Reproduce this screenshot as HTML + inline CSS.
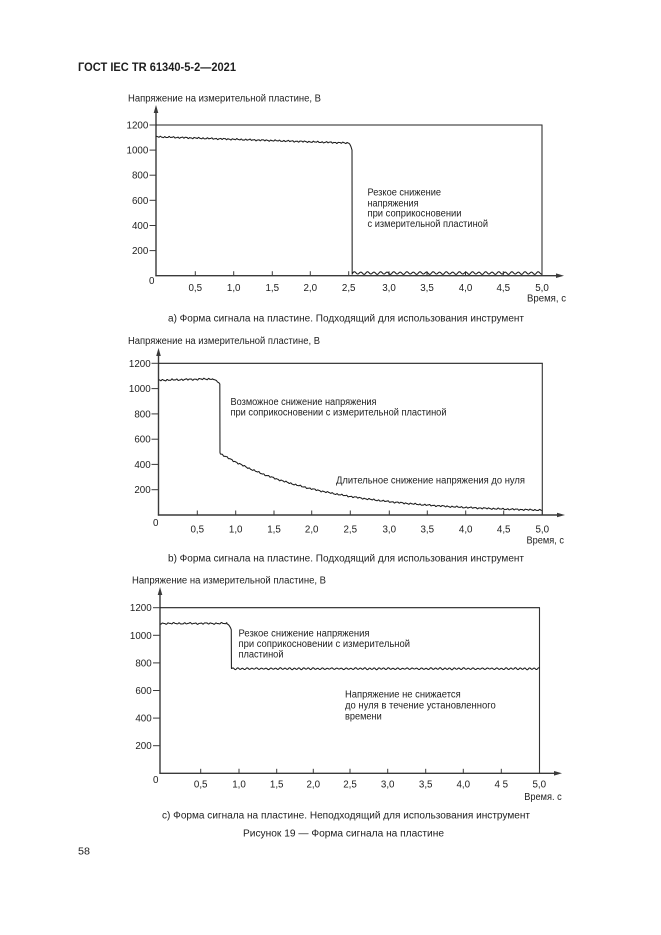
<!DOCTYPE html>
<html>
<head>
<meta charset="utf-8">
<style>
html,body{margin:0;padding:0;background:#fff;}
svg{display:block;}
text{font-family:"Liberation Sans","DejaVu Sans",sans-serif;fill:#1e1e1e;font-size:9.8px;}
.b{font-weight:bold;font-size:11.5px;}
.e{text-anchor:end;}
.m{text-anchor:middle;}
</style>
</head>
<body>
<svg id="s" width="661" height="935" viewBox="0 0 661 935" xmlns="http://www.w3.org/2000/svg">
<rect width="661" height="935" fill="#fff"/>
<text class="b" x="78" y="71" textLength="158" lengthAdjust="spacingAndGlyphs">ГОСТ IEC TR 61340-5-2—2021</text>

<!-- Chart a texts -->
<text x="128" y="101.5" textLength="193" lengthAdjust="spacingAndGlyphs">Напряжение на измерительной пластине, В</text>
<text class="e" x="148.3" y="128.5">1200</text>
<text class="e" x="148.3" y="153.6">1000</text>
<text class="e" x="148.3" y="178.7">800</text>
<text class="e" x="148.3" y="203.8">600</text>
<text class="e" x="148.3" y="229">400</text>
<text class="e" x="148.3" y="254.1">200</text>
<text class="m" x="151.7" y="284.2">0</text>
<text class="m" x="195.3" y="291">0,5</text>
<text class="m" x="233.7" y="291">1,0</text>
<text class="m" x="272.3" y="291">1,5</text>
<text class="m" x="310.3" y="291">2,0</text>
<text class="m" x="348.7" y="291">2,5</text>
<text class="m" x="389" y="291">3,0</text>
<text class="m" x="427" y="291">3,5</text>
<text class="m" x="465.5" y="291">4,0</text>
<text class="m" x="503.3" y="291">4,5</text>
<text class="m" x="542" y="291">5,0</text>
<text x="527" y="301.5" textLength="39" lengthAdjust="spacingAndGlyphs">Время, с</text>
<text x="367.5" y="195.7" textLength="73.5" lengthAdjust="spacingAndGlyphs">Резкое снижение</text>
<text x="367.5" y="206.3" textLength="51" lengthAdjust="spacingAndGlyphs">напряжения</text>
<text x="367.5" y="216.6" textLength="94" lengthAdjust="spacingAndGlyphs">при соприкосновении</text>
<text x="367.5" y="227" textLength="120.5" lengthAdjust="spacingAndGlyphs">с измерительной пластиной</text>
<text x="168" y="321.5" textLength="356" lengthAdjust="spacingAndGlyphs">а)  Форма сигнала на пластине. Подходящий для использования инструмент</text>

<!-- Chart b texts -->
<text x="128" y="344" textLength="192" lengthAdjust="spacingAndGlyphs">Напряжение на измерительной пластине, В</text>
<text class="e" x="150.7" y="366.8">1200</text>
<text class="e" x="150.7" y="392.1">1000</text>
<text class="e" x="150.7" y="417.4">800</text>
<text class="e" x="150.7" y="442.7">600</text>
<text class="e" x="150.7" y="467.9">400</text>
<text class="e" x="150.7" y="493.2">200</text>
<text class="m" x="155.7" y="526.2">0</text>
<text class="m" x="197.3" y="532.5">0,5</text>
<text class="m" x="235.7" y="532.5">1,0</text>
<text class="m" x="274" y="532.5">1,5</text>
<text class="m" x="311.7" y="532.5">2,0</text>
<text class="m" x="350.3" y="532.5">2,5</text>
<text class="m" x="389.3" y="532.5">3,0</text>
<text class="m" x="427.3" y="532.5">3,5</text>
<text class="m" x="465.7" y="532.5">4,0</text>
<text class="m" x="503.7" y="532.5">4,5</text>
<text class="m" x="542.3" y="532.5">5,0</text>
<text x="526.5" y="543.5" textLength="37.5" lengthAdjust="spacingAndGlyphs">Время, с</text>
<text x="230.5" y="405" textLength="146" lengthAdjust="spacingAndGlyphs">Возможное снижение напряжения</text>
<text x="230.5" y="415.3" textLength="216" lengthAdjust="spacingAndGlyphs">при соприкосновении с измерительной пластиной</text>
<text x="336" y="483.5" textLength="189" lengthAdjust="spacingAndGlyphs">Длительное снижение напряжения до нуля</text>
<text x="168" y="561.5" textLength="356" lengthAdjust="spacingAndGlyphs">b)  Форма сигнала на пластине. Подходящий для использования инструмент</text>

<!-- Chart c texts -->
<text x="132" y="583.5" textLength="194" lengthAdjust="spacingAndGlyphs">Напряжение на измерительной пластине, В</text>
<text class="e" x="151.7" y="611.2">1200</text>
<text class="e" x="151.7" y="638.8">1000</text>
<text class="e" x="151.7" y="666.4">800</text>
<text class="e" x="151.7" y="694">600</text>
<text class="e" x="151.7" y="721.6">400</text>
<text class="e" x="151.7" y="749.2">200</text>
<text class="m" x="155.7" y="782.8">0</text>
<text class="m" x="200.7" y="787.5">0,5</text>
<text class="m" x="239" y="787.5">1,0</text>
<text class="m" x="276.7" y="787.5">1,5</text>
<text class="m" x="313.3" y="787.5">2,0</text>
<text class="m" x="350" y="787.5">2,5</text>
<text class="m" x="387.7" y="787.5">3,0</text>
<text class="m" x="425.7" y="787.5">3,5</text>
<text class="m" x="463.3" y="787.5">4,0</text>
<text class="m" x="501.3" y="787.5">4 5</text>
<text class="m" x="539.3" y="787.5">5,0</text>
<text x="524.3" y="800" textLength="37.4" lengthAdjust="spacingAndGlyphs">Время. с</text>
<text x="238.5" y="636.5" textLength="131" lengthAdjust="spacingAndGlyphs">Резкое снижение напряжения</text>
<text x="238.5" y="647" textLength="171.5" lengthAdjust="spacingAndGlyphs">при соприкосновении с измерительной</text>
<text x="238.5" y="657.5" textLength="45" lengthAdjust="spacingAndGlyphs">пластиной</text>
<text x="345" y="697.5" textLength="115.7" lengthAdjust="spacingAndGlyphs">Напряжение не снижается</text>
<text x="345" y="708.5" textLength="150.7" lengthAdjust="spacingAndGlyphs">до нуля в течение установленного</text>
<text x="345" y="719.5" textLength="36.7" lengthAdjust="spacingAndGlyphs">времени</text>
<text x="162" y="818.5" textLength="368" lengthAdjust="spacingAndGlyphs">с)  Форма сигнала на пластине. Неподходящий для использования инструмент</text>

<text x="243" y="836.5" textLength="201" lengthAdjust="spacingAndGlyphs">Рисунок 19 — Форма сигнала на пластине</text>
<text x="78" y="854.5" textLength="12" lengthAdjust="spacingAndGlyphs">58</text>
</svg>
<script>
(function(){
var NS="http://www.w3.org/2000/svg";
var svg=document.getElementById('s');
function add(tag,a){var e=document.createElementNS(NS,tag);for(var k in a)e.setAttribute(k,a[k]);svg.appendChild(e);return e;}
function chart(o){
  var ac='#3a3a3a';
  add('line',{x1:o.ax,y1:o.atop+6,x2:o.ax,y2:o.ay0+0.6,stroke:ac,'stroke-width':1.4});
  add('polygon',{points:o.ax+','+o.atop+' '+(o.ax-2.3)+','+(o.atop+8)+' '+(o.ax+2.3)+','+(o.atop+8),fill:ac});
  add('line',{x1:o.ax-0.6,y1:o.ay0,x2:o.xtip-6,y2:o.ay0,stroke:ac,'stroke-width':1.4});
  add('polygon',{points:o.xtip+','+o.ay0+' '+(o.xtip-8)+','+(o.ay0-2.3)+' '+(o.xtip-8)+','+(o.ay0+2.3),fill:ac});
  add('line',{x1:o.ax,y1:o.ytop,x2:o.xr+0.5,y2:o.ytop,stroke:'#222','stroke-width':1.1});
  add('line',{x1:o.xr,y1:o.ytop,x2:o.xr,y2:o.ay0,stroke:'#333','stroke-width':1.1});
  o.yt.forEach(function(y){add('line',{x1:o.tl,y1:y,x2:o.ax,y2:y,stroke:ac,'stroke-width':1});});
  o.xt.forEach(function(x){add('line',{x1:x,y1:o.ay0-4.5,x2:x,y2:o.ay0,stroke:ac,'stroke-width':1});});
}
function w(t,a,p,s){return a*(0.6*Math.sin(6.2832*t/p+s)+0.3*Math.sin(6.2832*t/(p*0.53)+s*2.3)+0.25*Math.sin(6.2832*t/(p*3.1)+s*0.7));}
function range(a,b,st,f,arr){for(var t=a;t<=b+1e-9;t+=st)arr.push([t,f(t)]);}
function draw(pts,x0,px,y0,py){
  var d='';
  for(var i=0;i<pts.length;i++){
    d+=(i?'L':'M')+(x0+pts[i][0]*px).toFixed(2)+','+(y0-pts[i][1]*py).toFixed(2);
  }
  add('path',{d:d,fill:'none',stroke:'#1c1c1c','stroke-width':1.05,'stroke-linejoin':'round'});
}

/* Chart a */
chart({ax:156,ay0:275.7,atop:105,ytop:125,xr:542,xtip:564,tl:149.5,
  yt:[250.6,225.5,200.3,175.2,150.1,125],
  xt:[195.3,233.7,272.3,310.3,348.7,389,427,465.5,503.3,542]});
var A=[];
range(0,2.49,0.004,function(t){return 1106-20*t+w(t,6,0.055,1);},A);
range(2.494,2.534,0.004,function(t){var u=(t-2.49)/0.044;return 1056-45*u*u;},A);
A.push([2.539,1000]);A.push([2.541,12]);
range(2.548,5.0,0.004,function(t){return 21+9*Math.sin(6.2832*(t-2.548)/0.085)+2*Math.sin(t*37);},A);
draw(A,156,77.2,275.7,0.1256);

/* Chart b */
chart({ax:158.5,ay0:515,atop:348,ytop:363.3,xr:542.3,xtip:565,tl:151.5,
  yt:[489.7,464.4,439.2,413.9,388.6,363.3],
  xt:[197.3,235.7,274,311.7,350.3,389.3,427.3,465.7,503.7,542.3]});
var B=[];
range(0,0.70,0.004,function(t){return 1066+16*t+w(t,7,0.06,2);},B);
range(0.704,0.795,0.004,function(t){var u=(t-0.70)/0.095;return 1077-38*Math.pow(u,1.6)+w(t,3,0.05,2);},B);
B.push([0.799,1036]);B.push([0.801,495]);
range(0.806,5.0,0.004,function(t){return 468*Math.exp(-(t-0.8)/1.3)+20+w(t,6,0.06,3);},B);
draw(B,158.5,76.76,515,0.1264);

/* Chart c */
chart({ax:160,ay0:773.3,atop:587,ytop:607.7,xr:539.5,xtip:562,tl:153,
  yt:[745.7,718.1,690.5,662.9,635.3,607.7],
  xt:[200.7,239,276.7,313.3,350,387.7,425.7,463.3,501.3,539.5]});
var C=[];
range(0,0.88,0.004,function(t){return 1086+w(t,6,0.07,4);},C);
range(0.884,0.932,0.004,function(t){var u=(t-0.88)/0.055;return 1082-35*u*u;},C);
C.push([0.939,1040]);C.push([0.941,760]);
range(0.948,5.0,0.004,function(t){return 758+5*Math.sin(6.2832*(t-0.948)/0.062)+w(t,2.5,0.11,5);},C);
draw(C,160,75.9,773.3,0.138);
})();
</script>
</body>
</html>
